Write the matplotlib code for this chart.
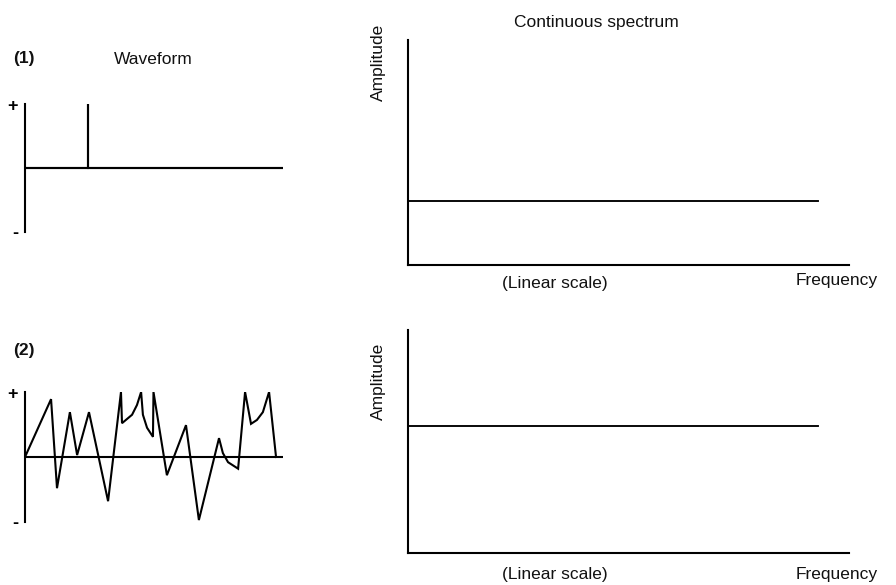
import matplotlib.pyplot as plt

# --- data ---
# waveform (1): a single impulse on a zero baseline (time 0..100, amplitude -1..+1)
impulse_t = [0, 24.5, 24.5, 24.5, 100]
impulse_a = [0, 0, 1.0, 0, 0]

# waveform (2): random-looking noise signal
noise_t = [0, 10.1, 12.4, 17.4, 20.2, 24.8, 32.2, 37.2, 37.6, 41.5, 43.4, 45.0,
           45.7, 47.3, 49.6, 49.8, 55.0, 62.4, 67.4, 75.2, 76.7, 78.7, 82.6,
           85.3, 87.6, 89.9, 92.2, 94.6, 97.3]
noise_a = [0, 0.89, -0.48, 0.69, 0.03, 0.69, -0.68, 1.0, 0.52, 0.65, 0.80, 1.0,
           0.65, 0.45, 0.31, 1.0, -0.28, 0.49, -0.97, 0.29, 0.06, -0.08, -0.18,
           1.0, 0.51, 0.57, 0.69, 1.0, 0.0]
baseline_t = [0, 100]

# continuous (flat) spectra, frequency 0..100, amplitude 0..1
spec_f = [0, 93]
spec1_a = [0.284, 0.284]
spec2_a = [0.57, 0.57]

W, H = 896, 585
FONT = "Liberation Sans"
FS = 12.5
LW = 1.5


def box(x0, y0, x1, y1):
    # pixel box (top-left origin) -> figure fraction rect
    return [x0 / W, (H - y1) / H, (x1 - x0) / W, (y1 - y0) / H]


def ftext(x, y, s, **kw):
    kw.setdefault("fontsize", FS)
    kw.setdefault("family", FONT)
    fig.text(x / W, 1 - y / H, s, ha="center", va="center", color="#111111", **kw)


fig = plt.figure(figsize=(W / 100, H / 100), dpi=100)


def waveform_axes(rect, t, a):
    ax = fig.add_axes(rect)
    ax.plot(baseline_t, [0, 0], color="black", lw=LW)
    ax.plot(t, a, color="black", lw=LW, solid_joinstyle="miter")
    ax.set_xlim(0, 100)
    ax.set_ylim(-1, 1)
    for s in ["top", "right", "bottom"]:
        ax.spines[s].set_visible(False)
    ax.spines["left"].set_linewidth(LW)
    ax.set_xticks([])
    ax.set_yticks([-1, 1])
    ax.set_yticklabels(["-", "+"], fontsize=13, fontweight="bold", family=FONT)
    ax.tick_params(axis="y", length=0, pad=5)
    return ax


def spectrum_axes(rect, f, a):
    ax = fig.add_axes(rect)
    ax.plot(f, a, color="black", lw=LW * 0.9)
    ax.set_xlim(0, 100)
    ax.set_ylim(0, 1)
    for s in ["top", "right"]:
        ax.spines[s].set_visible(False)
    for s in ["left", "bottom"]:
        ax.spines[s].set_linewidth(LW)
    ax.set_xticks([])
    ax.set_yticks([])
    return ax


waveform_axes(box(25, 104, 283, 232), impulse_t, impulse_a)
waveform_axes(box(25, 392, 283, 522), noise_t, noise_a)
spectrum_axes(box(408, 40, 849, 265), spec_f, spec1_a)
spectrum_axes(box(408, 330, 849, 553), spec_f, spec2_a)

# texts
ftext(24, 59, "(1)", fontweight="bold")
ftext(153, 59, "Waveform")
ftext(24, 351, "(2)", fontweight="bold")
ftext(596, 22, "Continuous spectrum")

ftext(378, 62, "Amplitude", rotation=90)
ftext(555, 283, "(Linear scale)")
ftext(837, 280, "Frequency")

ftext(378, 381, "Amplitude", rotation=90)
ftext(555, 575, "(Linear scale)")
ftext(837, 575, "Frequency")

fig.savefig("out.png", dpi=100)
